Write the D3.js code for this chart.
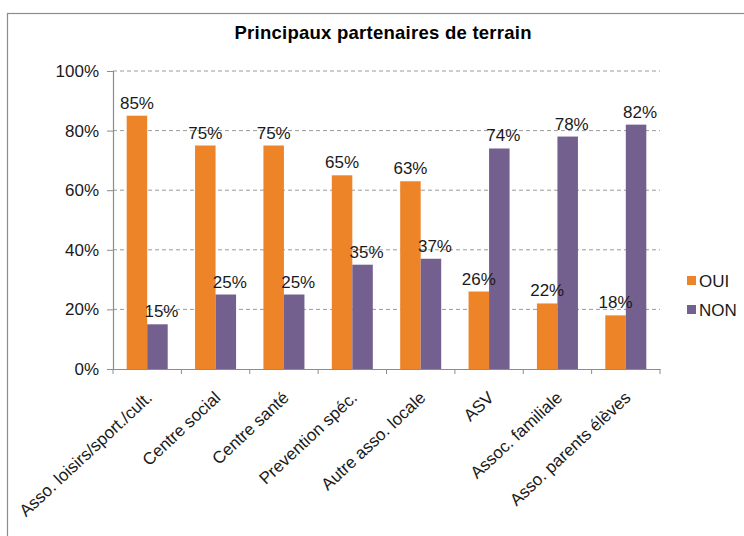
<!DOCTYPE html>
<html>
<head>
<meta charset="utf-8">
<script src="https://cdn.jsdelivr.net/npm/d3@7"></script>
<style>
  body { margin: 0; background: #fff; }
  svg { font-family: 'Liberation Sans', Arial, sans-serif; }
</style>
</head>
<body>
<svg id="chart" width="744" height="536"></svg>
<script>
const categories = ['Asso. loisirs/sport./cult.', 'Centre social', 'Centre santé', 'Prevention spéc.',
  'Autre asso. locale', 'ASV', 'Assoc. familiale', 'Asso. parents élèves']
const oui = [85, 75, 75, 65, 63, 26, 22, 18]
const non = [15, 25, 25, 35, 37, 74, 78, 82]
const seriesNames = ['OUI', 'NON']
const yTicks = [0, 20, 40, 60, 80, 100]

const colors = {OUI: '#EE8428', NON: '#74608F'}

const svg = d3.select('#chart')
const margin = {left: 113, right: 84, top: 71, bottom: 167}
const width = 744 - margin.left - margin.right
const height = 536 - margin.top - margin.bottom

// chart frame
svg.append('rect')
  .attr('x', 7.5).attr('y', 13.5)
  .attr('width', 800).attr('height', 600)
  .attr('fill', 'none').attr('stroke', '#8c8c8c').attr('stroke-width', 1.2)

svg.append('text')
  .attr('x', 383).attr('y', 39)
  .attr('text-anchor', 'middle')
  .attr('font-size', 18.5).attr('font-weight', 'bold')
  .attr('textLength', 297)
  .text('Principaux partenaires de terrain')

const g = svg.append('g').attr('transform', `translate(${margin.left},${margin.top})`)

const x = d3.scaleBand().domain(categories).range([0, width]).paddingInner(0.4).paddingOuter(0.2)
const x0 = d3.scaleBand().domain(categories).range([0, width])
const xs = d3.scaleBand().domain(seriesNames).range([0, x.bandwidth()])
const y = d3.scaleLinear().domain([0, 100]).range([height, 0])

// grid
g.selectAll('.grid')
  .data(yTicks.filter(d => d > 0))
  .join('line')
  .attr('x1', 0).attr('x2', width)
  .attr('y1', d => y(d)).attr('y2', d => y(d))
  .attr('stroke', '#9a9a9a').attr('stroke-dasharray', '4,3')

// y axis
const yAxis = g.append('g')
  .call(d3.axisLeft(y).tickValues(yTicks).tickSize(6).tickPadding(8).tickFormat(d => d + '%'))
yAxis.select('.domain').attr('stroke', '#8c8c8c').attr('stroke-width', 1.2)
yAxis.selectAll('.tick line').attr('stroke', '#8c8c8c')
yAxis.selectAll('text').attr('font-size', 17).attr('fill', '#1a1a1a')

// x axis
const xAxis = g.append('g').attr('transform', `translate(0,${height})`)
  .call(d3.axisBottom(x0).tickSize(0).tickSizeOuter(0))
xAxis.select('.domain').attr('stroke', '#8c8c8c').attr('stroke-width', 1.2)
xAxis.selectAll('.tick line').remove()
xAxis.selectAll('.tick text')
  .attr('font-size', 17).attr('fill', '#1a1a1a')
  .attr('text-anchor', 'end')
  .attr('y', 0).attr('dy', 0)
  .attr('transform', 'translate(6,30) rotate(-43)')

// category separators on the x axis
g.selectAll('.sep')
  .data(d3.range(categories.length + 1))
  .join('line')
  .attr('x1', i => i * x0.step()).attr('x2', i => i * x0.step())
  .attr('y1', height).attr('y2', height + 5)
  .attr('stroke', '#8c8c8c')

const rows = categories.map((c, i) => ({cat: c, values: [
  {name: 'OUI', value: oui[i]},
  {name: 'NON', value: non[i]}
]}))

const groups = g.selectAll('.grp')
  .data(rows)
  .join('g')
  .attr('transform', d => `translate(${x(d.cat)},0)`)

groups.selectAll('rect')
  .data(d => d.values)
  .join('rect')
  .attr('x', d => xs(d.name))
  .attr('width', xs.bandwidth())
  .attr('y', d => y(d.value))
  .attr('height', d => height - y(d.value))
  .attr('fill', d => colors[d.name])

groups.selectAll('.lbl')
  .data(d => d.values)
  .join('text')
  .attr('x', d => xs(d.name) + xs.bandwidth() / 2 + (d.name === 'NON' ? 4 : 0))
  .attr('y', d => y(d.value) - 7)
  .attr('text-anchor', 'middle')
  .attr('font-size', 17).attr('fill', '#1a1a1a')
  .text(d => d.value + '%')

// legend
const legend = svg.append('g').attr('transform', 'translate(687,276)')
seriesNames.forEach((n, i) => {
  legend.append('rect')
    .attr('x', 0).attr('y', i * 29)
    .attr('width', 9).attr('height', 9)
    .attr('fill', colors[n])
  legend.append('text')
    .attr('x', 12).attr('y', i * 29 + 11)
    .attr('font-size', 17).attr('fill', '#1a1a1a')
    .text(n)
})
</script>
</body>
</html>
